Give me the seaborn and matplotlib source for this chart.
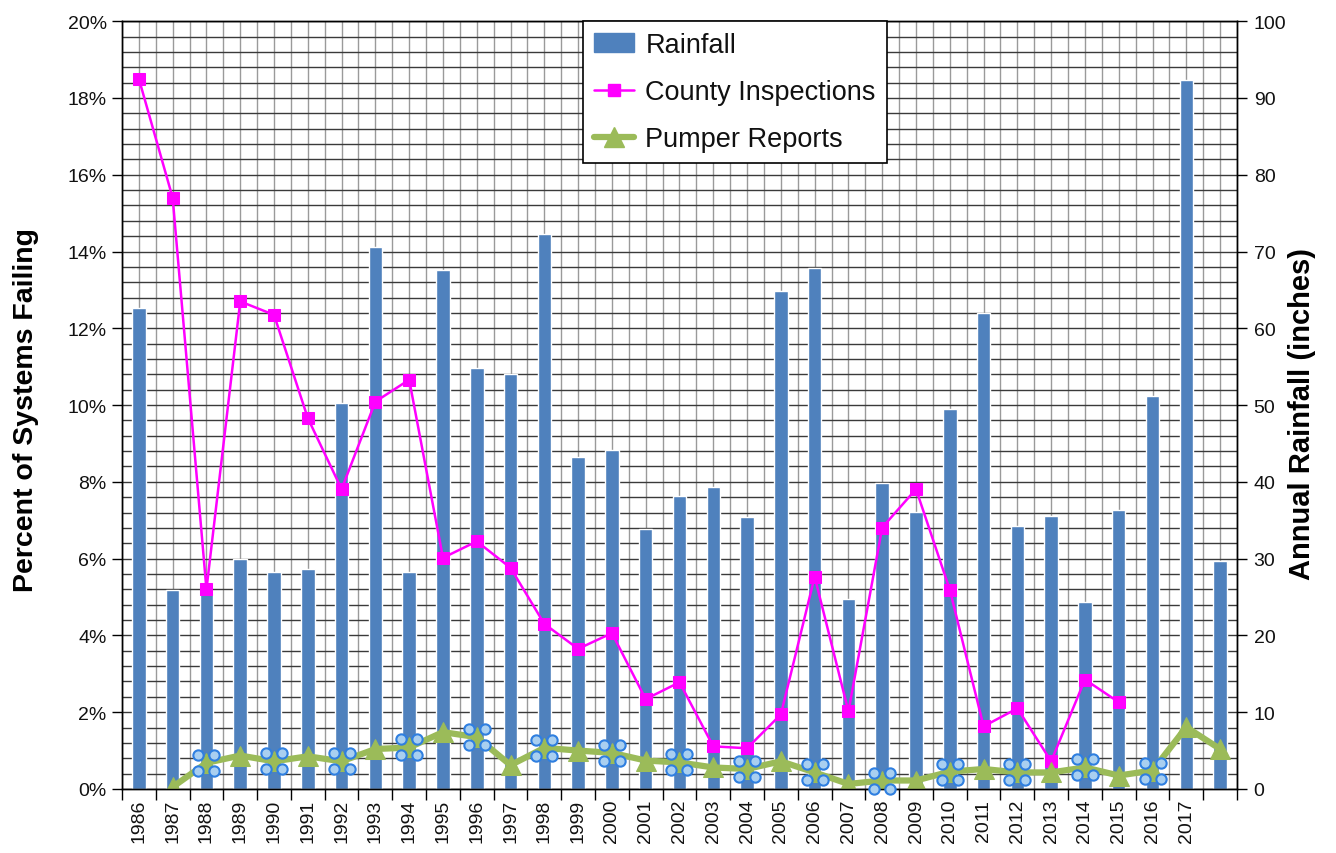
import numpy as np
import seaborn as sns
import matplotlib.pyplot as plt
from matplotlib.transforms import ScaledTranslation
from matplotlib.lines import Line2D
from matplotlib.patches import Patch

# DATA
years = [str(y) for y in range(1986, 2018)] + [""]

# annual rainfall, inches (right axis)
rainfall = [62.6, 25.9, 25.4, 29.9, 28.2, 28.6, 50.3, 70.6, 28.3, 67.6, 54.8, 54.0, 72.3,
            43.3, 44.1, 33.9, 38.1, 39.3, 35.4, 64.8, 67.8, 24.8, 39.9, 36.1, 49.5, 62.0,
            34.3, 35.6, 24.3, 36.3, 51.2, 92.3, 29.7]

# percent of systems failing (left axis)
county = [18.5, 15.4, 5.2, 12.7, 12.35, 9.66, 7.81, 10.09, 10.66, 6.02, 6.45, 5.76, 4.3,
          3.65, 4.06, 2.34, 2.78, 1.11, 1.06, 1.94, 5.53, 2.02, 6.81, 7.81, 5.19, 1.63,
          2.10, 0.72, 2.85, 2.26, np.nan, np.nan, np.nan]
pumper = [np.nan, 0.05, 0.68, 0.87, 0.72, 0.85, 0.72, 1.04, 1.08, 1.48, 1.35, 0.62, 1.07,
          1.0, 0.94, 0.74, 0.69, 0.56, 0.52, 0.72, 0.43, 0.13, 0.22, 0.22, 0.45, 0.52,
          0.43, 0.43, 0.56, 0.35, 0.48, 1.61, 1.04]

# points of the pumper series that carry the little selection handles in the original
handle_idx = list(range(2, 31, 2))

BLUE = "#4F81BD"
PINK = "#FF00FF"
GREEN = "#9BBB59"

sns.set_style("ticks")
plt.rcParams["font.family"] = ["Liberation Sans", "DejaVu Sans"]
plt.rcParams["text.color"] = "#111111"
plt.rcParams["axes.labelcolor"] = "black"
plt.rcParams["xtick.color"] = "#111111"
plt.rcParams["ytick.color"] = "#111111"

fig = plt.figure(figsize=(13.36, 8.54), dpi=100)
ax = fig.add_axes([0.0913, 0.075, 0.8346, 0.899])
ax2 = ax.twinx()

# lines on top, bars (and grid) underneath
ax.set_zorder(2)
ax2.set_zorder(1)
ax.patch.set_visible(False)
ax2.patch.set_visible(True)
ax2.patch.set_facecolor("white")

pos = np.arange(len(years))

# bars - rainfall on right axis
sns.barplot(x=pos, y=rainfall, ax=ax2, color=BLUE, width=0.4, saturation=1, zorder=2)

# grid lives on the bar axes so the bars cover it
for xv in np.arange(-0.5, len(years), 0.5):
    ax2.axvline(xv, color="#9a9a9a", lw=1.0, zorder=0.4)
ax2.set_ylim(0, 100)
ax2.set_yticks(range(0, 101, 10))
ax2.set_yticks(np.arange(0, 101, 2), minor=True)
ax2.set_axisbelow(True)
ax2.grid(axis="y", which="both", color="#3a3a3a", lw=1.0)
ax2.grid(axis="x", visible=False)

# lines - percent failing on left axis
sns.lineplot(x=pos, y=county, ax=ax, color=PINK, lw=1.8, marker="s", markersize=9,
             markeredgecolor=PINK, estimator=None, sort=False, legend=False)
sns.lineplot(x=pos, y=pumper, ax=ax, color=GREEN, lw=4.5, marker="^", markersize=14,
             markeredgecolor=GREEN, estimator=None, sort=False, legend=False)

# selection handles around every other pumper point
px = [pos[i] for i in handle_idx]
py = [pumper[i] for i in handle_idx]
for dx, dy in [(-8, 8), (8, 8), (-8, -8), (8, -8)]:
    tr = ax.transData + ScaledTranslation(dx / 100, dy / 100, fig.dpi_scale_trans)
    ax.scatter(px, py, s=55, facecolor="#A9CFF0", edgecolor="#2F7FE0", lw=1.5,
               transform=tr, zorder=5, clip_on=False)

# axes, ticks
ax.set_xlim(-0.5, len(years) - 0.5)
ax.set_ylim(0, 20)
ax.set_xticks(pos)
ax.set_xticklabels(years, rotation=90, fontsize=14)
ax.set_xticks(np.arange(-0.5, len(years), 1), minor=True)
ax.tick_params(axis="x", which="major", length=0, pad=7)
ax.tick_params(axis="x", which="minor", length=8, width=1, color="black", direction="out")
ax.set_yticks(range(0, 21, 2))
ax.set_yticklabels([f"{v}%" for v in range(0, 21, 2)], fontsize=14)
ax.tick_params(axis="y", length=7, width=1, color="black", direction="out", pad=4)
ax2.tick_params(axis="y", which="major", length=7, width=1, color="black",
                direction="out", labelsize=14, pad=5)
ax2.tick_params(axis="y", which="minor", length=0)

for a in (ax, ax2):
    for s in a.spines.values():
        s.set_color("black")
        s.set_linewidth(1.0)
        s.set_visible(True)

ax.set_xlabel("")
ax2.set_xlabel("")
ax.set_ylabel("Percent of Systems Failing", fontsize=20.5, fontweight="bold")
ax.yaxis.set_label_coords(-0.074, 0.495)
ax2.set_ylabel("Annual Rainfall (inches)", fontsize=21, fontweight="bold")
ax2.yaxis.set_label_coords(1.046, 0.49)

handles = [
    Patch(facecolor=BLUE, edgecolor=BLUE),
    Line2D([], [], color=PINK, lw=1.8, marker="s", markersize=9),
    Line2D([], [], color=GREEN, lw=4.5, marker="^", markersize=14),
]
leg = ax.legend(handles, ["Rainfall", "County Inspections", "Pumper Reports"],
                loc="upper left", bbox_to_anchor=(0.4135, 1.0), borderaxespad=0,
                fontsize=19.5, frameon=True, fancybox=False, handlelength=1.5,
                handletextpad=0.4, labelspacing=0.78, borderpad=0.4)
leg.get_frame().set_edgecolor("black")
leg.get_frame().set_linewidth(1.2)
leg.get_frame().set_alpha(1)
leg.set_zorder(10)

fig.savefig("out.png", dpi=100)
